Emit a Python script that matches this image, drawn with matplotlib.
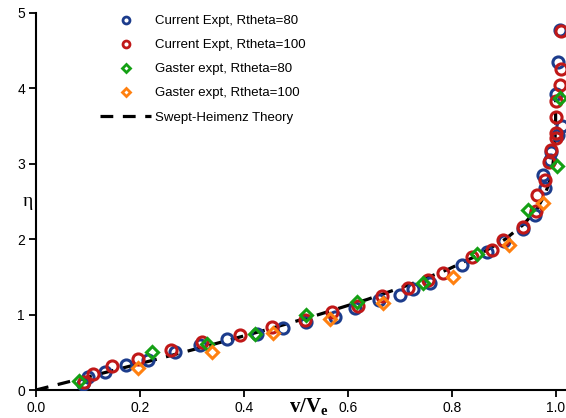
import matplotlib
matplotlib.use("Agg")
import matplotlib.pyplot as plt
from matplotlib.lines import Line2D

# ---------------- data ----------------
cur80_v = [0.091, 0.100, 0.133, 0.173, 0.215, 0.268, 0.315, 0.367, 0.425, 0.475,
           0.520, 0.575, 0.613, 0.660, 0.700, 0.725, 0.758, 0.819, 0.867, 0.900,
           0.937, 0.960, 0.979, 0.975, 0.990, 0.992, 1.004, 1.013, 1.000, 1.004, 1.008]
cur80_eta = [0.08, 0.17, 0.24, 0.33, 0.40, 0.50, 0.60, 0.68, 0.74, 0.82,
             0.90, 0.97, 1.09, 1.20, 1.26, 1.34, 1.42, 1.66, 1.83, 1.97,
             2.14, 2.32, 2.68, 2.85, 3.05, 3.15, 3.38, 3.50, 3.93, 4.35, 4.77]

cur100_v = [0.093, 0.110, 0.146, 0.196, 0.260, 0.320, 0.392, 0.454, 0.517, 0.569,
            0.620, 0.665, 0.716, 0.754, 0.783, 0.840, 0.877, 0.898, 0.937, 0.963,
            0.965, 0.979, 0.988, 0.992, 1.000, 1.000, 1.000, 1.000, 1.008, 1.010, 1.010]
cur100_eta = [0.10, 0.21, 0.32, 0.41, 0.53, 0.64, 0.73, 0.84, 0.93, 1.03,
              1.12, 1.25, 1.35, 1.46, 1.55, 1.76, 1.86, 1.99, 2.16, 2.38,
              2.59, 2.79, 3.02, 3.18, 3.34, 3.41, 3.62, 3.83, 4.05, 4.26, 4.76]

gas80_v = [0.083, 0.223, 0.330, 0.421, 0.520, 0.617, 0.745, 0.848, 0.946, 1.003, 1.009]
gas80_eta = [0.12, 0.50, 0.61, 0.74, 1.00, 1.17, 1.42, 1.80, 2.39, 2.97, 3.87]

gas100_v = [0.196, 0.338, 0.456, 0.565, 0.667, 0.802, 0.910, 0.975]
gas100_eta = [0.29, 0.50, 0.75, 0.94, 1.16, 1.50, 1.92, 2.48]

theory_eta = [0.0, 0.2, 0.4, 0.6, 0.8, 1.0, 1.2, 1.4, 1.6, 1.8, 2.0, 2.2, 2.4,
              2.6, 2.8, 3.0, 3.2, 3.5, 3.9]
theory_v = [0.0, 0.115, 0.228, 0.338, 0.444, 0.544, 0.637, 0.720, 0.793, 0.854,
            0.903, 0.939, 0.964, 0.980, 0.990, 0.995, 0.998, 1.000, 1.000]

labels = ["Current Expt, Rtheta=80", "Current Expt, Rtheta=100",
          "Gaster expt, Rtheta=80", "Gaster expt, Rtheta=100",
          "Swept-Heimenz Theory"]
x_ticks = [0.0, 0.2, 0.4, 0.6, 0.8, 1.0]
y_ticks = [0, 1, 2, 3, 4, 5]

# ---------------- styling ----------------
plt.rcParams['font.family'] = ['Liberation Sans', 'DejaVu Sans']
plt.rcParams['mathtext.fontset'] = 'custom'
plt.rcParams['mathtext.rm'] = 'Liberation Serif'
plt.rcParams['mathtext.bf'] = 'Liberation Serif:bold'
c_blue = '#1c3c8c'
c_red = '#c01818'
c_green = '#14a014'
c_orange = '#ff8010'

fig = plt.figure(figsize=(5.66, 4.18), dpi=100)
ax = fig.add_axes([36/566, 28/418, 530/566, 377/418])

ax.plot(theory_v, theory_eta, color='black', lw=2.3, ls=(0, (4, 3)), zorder=2)
ax.plot(cur80_v, cur80_eta, ls='none', marker='o', ms=8, mfc='none', mec=c_blue, mew=2.2, zorder=3)
ax.plot(cur100_v, cur100_eta, ls='none', marker='o', ms=8, mfc='none', mec=c_red, mew=2.2, zorder=3)
ax.plot(gas80_v, gas80_eta, ls='none', marker='D', ms=6, mfc='none', mec=c_green, mew=2.2, zorder=4)
ax.plot(gas100_v, gas100_eta, ls='none', marker='D', ms=6, mfc='none', mec=c_orange, mew=2.2, zorder=4)

ax.set_xlim(0, 1.02)
ax.set_ylim(0, 5)
ax.set_xticks(x_ticks)
ax.set_xticklabels([f"{t:.1f}" for t in x_ticks])
ax.set_yticks(y_ticks)
for s in ['top', 'right']:
    ax.spines[s].set_visible(False)
for s in ['left', 'bottom']:
    ax.spines[s].set_linewidth(1.5)
ax.tick_params(direction='out', length=5, width=1.3, labelsize=10, pad=3)

ax.set_xlabel(r'$\mathbf{v/V_e}$', fontsize=15, va='center')
ax.xaxis.set_label_coords(0.515, -0.043)
ax.set_ylabel('η', rotation=0, fontsize=14, family=['Liberation Serif', 'DejaVu Serif'],
              va='center', ha='center')
ax.yaxis.set_label_coords(-0.015, 0.50)

handles = [
    Line2D([], [], ls='none', marker='o', ms=5, mfc='none', mec=c_blue, mew=2),
    Line2D([], [], ls='none', marker='o', ms=5, mfc='none', mec=c_red, mew=2),
    Line2D([], [], ls='none', marker='D', ms=4, mfc='none', mec=c_green, mew=2),
    Line2D([], [], ls='none', marker='D', ms=4, mfc='none', mec=c_orange, mew=2),
    Line2D([], [], color='black', lw=2.3, ls=(0, (4, 3))),
]
leg = ax.legend(handles, labels, loc='upper left', bbox_to_anchor=(64/530, 0.995),
                frameon=False, fontsize=9.5, handlelength=3.9, handletextpad=0.25,
                labelspacing=0.9, borderpad=0, borderaxespad=0)

fig.savefig('out.png', dpi=100)
